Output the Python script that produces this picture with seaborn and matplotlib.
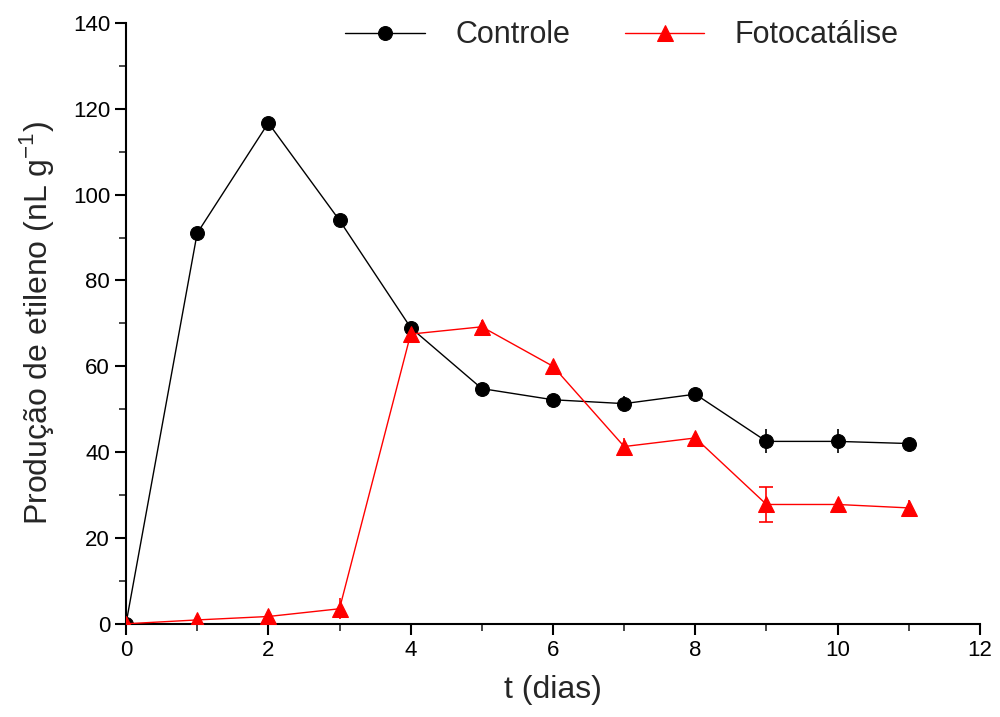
import matplotlib
matplotlib.use("Agg")
import matplotlib.pyplot as plt
from matplotlib.ticker import MultipleLocator
import seaborn as sns
import pandas as pd

days = [0, 1, 2, 3, 4, 5, 6, 7, 8, 9, 10, 11]
controle = [0, 91.0, 116.7, 94.0, 69.0, 54.8, 52.2, 51.3, 53.5, 42.5, 42.5, 42.0]
controle_err = [0, 0.5, 0.5, 0.5, 1.0, 1.0, 1.0, 1.8, 1.0, 2.8, 2.8, 1.0]
foto = [0, 0.9, 1.7, 3.5, 67.5, 69.2, 60.0, 41.3, 43.3, 27.8, 27.8, 27.0]
foto_err = [0, 0.5, 0.5, 2.5, 1.0, 1.5, 1.0, 2.0, 1.0, 4.0, 1.5, 1.8]
labels = ["Controle", "Fotocatálise"]

sns.set_theme(style="ticks")
plt.rcParams['font.family'] = ['Liberation Sans', 'DejaVu Sans']
plt.rcParams['mathtext.fontset'] = 'custom'
plt.rcParams['mathtext.rm'] = 'Liberation Sans'

fig = plt.figure(figsize=(10, 7.17), dpi=100)
ax = fig.add_axes([0.126, 0.13, 0.854, 0.838])

df = pd.DataFrame({"t": days, "Controle": controle, "Fotocatálise": foto})

ax.errorbar(days, controle, yerr=controle_err, fmt='none', ecolor='black',
            elinewidth=1.2, capsize=0, zorder=2)
# caps only visible where the bar is long
big = [i for i, e in enumerate(foto_err) if e >= 3.5]
small = [i for i, e in enumerate(foto_err) if e < 3.5]
ax.errorbar([days[i] for i in small], [foto[i] for i in small], yerr=[foto_err[i] for i in small],
            fmt='none', ecolor='red', elinewidth=1.2, capsize=0, zorder=2)
ax.errorbar([days[i] for i in big], [foto[i] for i in big], yerr=[foto_err[i] for i in big],
            fmt='none', ecolor='red', elinewidth=1.2, capsize=5, capthick=1.2, zorder=2)

sns.lineplot(data=df, x="t", y="Controle", ax=ax, color="black", marker="o",
             markersize=10, markeredgecolor="black", linewidth=1.0, label=labels[0], zorder=3)
sns.lineplot(data=df, x="t", y="Fotocatálise", ax=ax, color="red", marker="^",
             markersize=11, markeredgecolor="red", linewidth=1.0, label=labels[1], zorder=3)

ax.set_xlim(0, 12)
ax.set_ylim(0, 140)
ax.xaxis.set_major_locator(MultipleLocator(2))
ax.xaxis.set_minor_locator(MultipleLocator(1))
ax.yaxis.set_major_locator(MultipleLocator(20))
ax.yaxis.set_minor_locator(MultipleLocator(10))
ax.tick_params(which='major', direction='out', length=8, width=1.5, labelsize=16, colors='black')
ax.tick_params(which='minor', direction='out', length=5, width=1.2)
for s in ['top', 'right']:
    ax.spines[s].set_visible(False)
for s in ['left', 'bottom']:
    ax.spines[s].set_linewidth(1.5)
    ax.spines[s].set_color('black')

ax.set_xlabel("t (dias)", fontsize=23, labelpad=10)
ax.set_ylabel(r"Produção de etileno (nL g$^{\mathregular{-1}}$)", fontsize=23, labelpad=12)

leg = ax.legend(loc='upper center', bbox_to_anchor=(0.622, 1.01), bbox_transform=fig.transFigure,
                ncol=2, frameon=False, fontsize=22, handlelength=2.6, handletextpad=1.0,
                columnspacing=1.8)

fig.savefig("out.png", dpi=100)
